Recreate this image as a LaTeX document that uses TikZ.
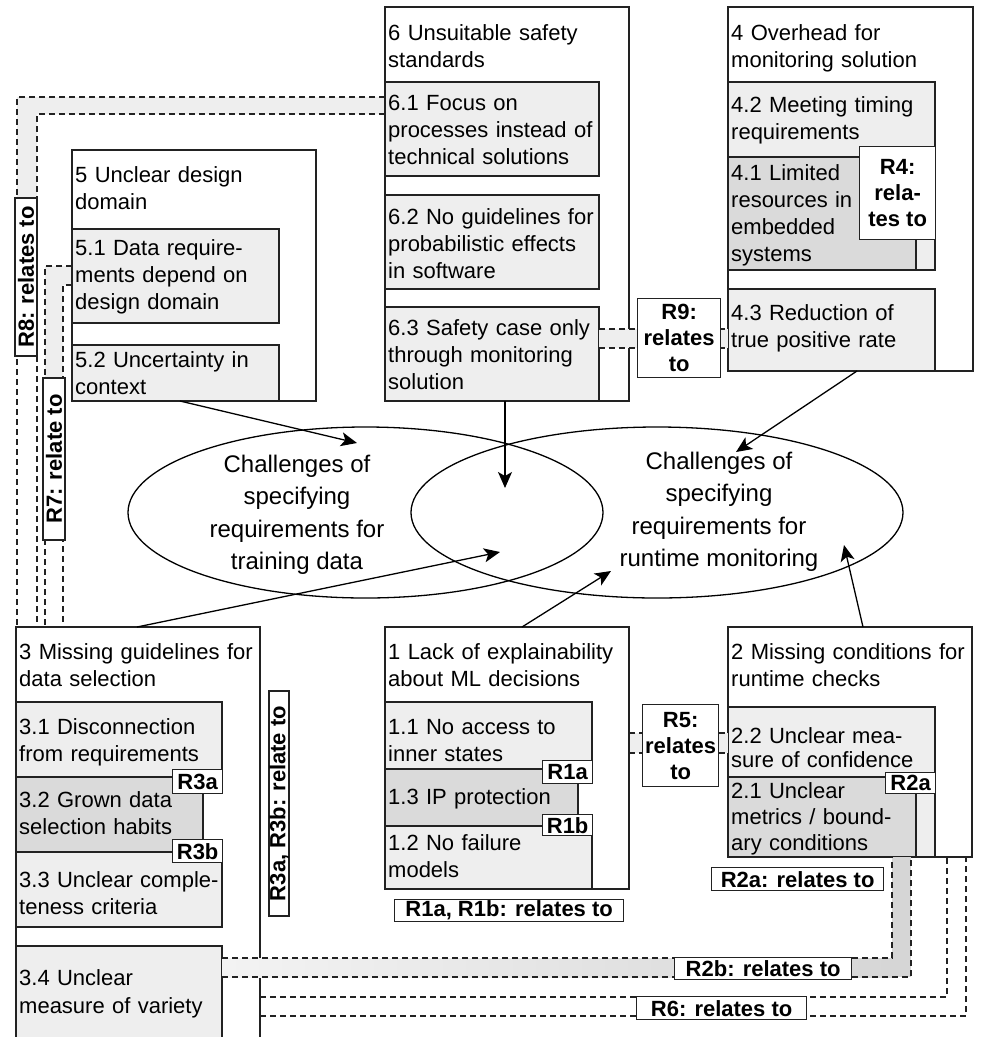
\documentclass[tikz,border=0pt]{standalone}
\usepackage{fontspec}
\setmainfont{Liberation Sans}
\usetikzlibrary{shapes.geometric,arrows.meta,calc}
\definecolor{lite}{HTML}{EEEEEE}
\definecolor{darkf}{HTML}{DADADA}
\definecolor{bord}{HTML}{222222}
\definecolor{bandd}{HTML}{D6D6D6}
\tikzset{
 outerbox/.style={draw=bord, line width=1.3pt, fill=white, anchor=north west, inner sep=0pt, outer sep=0pt},
 innerbox/.style={outerbox, fill=lite},
 darkbox/.style={outerbox, fill=darkf},
 lbl/.style={draw=bord, line width=1.3pt, fill=white, inner sep=0pt, font=\bfseries\fontsize{22}{26}\selectfont, align=center},
 dsh/.style={draw=bord, line width=1.2pt, dash pattern=on 6pt off 4pt},
 arr/.style={draw=black, line width=1.3pt, -{Stealth[length=16pt,width=14pt,inset=4pt]}},
 ell/.style={draw=black, line width=1.3pt, ellipse, inner sep=0pt},
 etext/.style={font=\fontsize{24}{32.5}\selectfont, align=center, inner sep=0pt},
}
\newcommand\rb[6]{\node[#2, minimum width={(#5)-(#3)}, minimum height={(#6)-(#4)}] (#1) at (#3,#4) {};}
\newcommand\tx[5]{\node[font=\fontsize{22}{#4}\selectfont, text width=320pt, align=left, inner sep=0pt, anchor=north west] (#1) at (#2+3, #3-0.7*#4) {\strut #5};}
\newcommand\lb[6]{\node[lbl, minimum width={(#4)-(#2)}, minimum height={(#5)-(#3)}, anchor=north west] (#1) at (#2,#3) {#6};}
\begin{document}
\begin{tikzpicture}[x=1pt,y=-1pt]
\path[use as bounding box, fill=white] (0,0) rectangle (981,1037);

% ---- R8 and R7 bands (behind boxes)
\fill[lite] (17,97) -- (385,97) -- (385,114) -- (37,114) -- (37,200) -- (17,200) -- cycle;
\fill[lite] (45,266) -- (72,266) -- (72,285) -- (63,285) -- (63,380) -- (45,380) -- cycle;
\coordinate (r8a) at (385,97); \coordinate (r8b) at (385,114);
\coordinate (r8c) at (17,627); \coordinate (r8d) at (37,627);
\draw[dsh] (r8a) -- (17,97) -- (r8c);
\draw[dsh] (r8b) -- (37,114) -- (r8d);
\coordinate (r7a) at (72,266); \coordinate (r7b) at (72,285);
\coordinate (r7c) at (45,627); \coordinate (r7d) at (63,627);
\draw[dsh] (r7a) -- (45,266) -- (r7c);
\draw[dsh] (r7b) -- (63,285) -- (r7d);

% ---- outer boxes
\rb{b6}{outerbox}{385}{7}{629}{401}
\rb{b5}{outerbox}{72}{150}{316}{401}
\rb{b4}{outerbox}{728}{7}{973}{371}
\rb{b3}{outerbox}{16}{627}{260}{1050}
\rb{b1}{outerbox}{385}{627}{629}{889}
\rb{b2}{outerbox}{728}{627}{972}{857}

% ---- inner boxes
\rb{b61}{innerbox}{385}{82}{599}{176}
\rb{b62}{innerbox}{385}{195}{599}{289}
\rb{b63}{innerbox}{385}{307}{599}{401}
\rb{b51}{innerbox}{72}{229}{279}{323}
\rb{b52}{innerbox}{72}{345}{279}{401}
\rb{b42}{innerbox}{728}{82}{935}{270}
\rb{b41}{darkbox}{728}{157}{916}{270}
\rb{b43}{innerbox}{728}{289}{935}{371}
\rb{b31}{innerbox}{16}{702}{222}{777}
\rb{b32}{darkbox}{16}{777}{203}{852}
\rb{b33}{innerbox}{16}{852}{222}{927}
\rb{b34}{innerbox}{16}{946}{222}{1050}
\rb{b11}{innerbox}{385}{702}{592}{769}
\rb{b13}{darkbox}{385}{769}{578}{826}
\rb{b12}{innerbox}{385}{826}{592}{889}
\rb{b22}{innerbox}{728}{707}{935}{857}
\rb{b21}{darkbox}{728}{777}{916}{857}

% ---- box texts
\tx{t6}{385}{40}{27}{6 Unsuitable safety\\standards}
\tx{t61}{385}{110}{27}{6.1 Focus on\\processes instead of\\technical solutions}
\tx{t62}{385}{224}{27}{6.2 No guidelines for\\probabilistic effects\\in software}
\tx{t63}{385}{335}{27}{6.3 Safety case only\\through monitoring\\solution}
\tx{t5}{72}{182}{27}{5 Unclear design\\domain}
\tx{t51}{72}{255}{27}{5.1 Data require-\\ments depend on\\design domain}
\tx{t52}{72}{367}{27}{5.2 Uncertainty in\\context}
\tx{t4}{728}{40}{27}{4 Overhead for\\monitoring solution}
\tx{t42}{728}{112}{27}{4.2 Meeting timing\\requirements}
\tx{t41}{728}{180}{27}{4.1 Limited\\resources in\\embedded\\systems}
\tx{t43}{728}{320}{27}{4.3 Reduction of\\true positive rate}
\tx{t3}{16}{659}{27}{3 Missing guidelines for\\data selection}
\tx{t31}{16}{734}{27}{3.1 Disconnection\\from requirements}
\tx{t32}{16}{807}{27}{3.2 Grown data\\selection habits}
\tx{t33}{16}{887}{27.5}{3.3 Unclear comple-\\teness criteria}
\tx{t34}{16}{985}{28}{3.4 Unclear\\measure of variety}
\tx{t1}{385}{659}{27}{1 Lack of explainability\\about ML decisions}
\tx{t11}{385}{734}{27}{1.1 No access to\\inner states}
\tx{t13}{385}{804}{27}{1.3 IP protection}
\tx{t12}{385}{850}{27}{1.2 No failure\\models}
\tx{t2}{728}{659}{27}{2 Missing conditions for\\runtime checks}
\tx{t22}{728}{743}{24}{2.2 Unclear mea-\\sure of confidence}
\tx{t21}{728}{798}{26}{2.1 Unclear\\metrics / bound-\\ary conditions}

% ---- R9 and R5 bands
\fill[lite] (599,329) rectangle (728,348);
\draw[dsh] (b63.east |- 0,329) -- (b43.west |- 0,329);
\draw[dsh] (b63.east |- 0,348) -- (b43.west |- 0,348);
\fill[lite] (629.7,733) rectangle (728,753);
\draw[dsh] (b1.east |- 0,733) -- (b22.west |- 0,733);
\draw[dsh] (b1.east |- 0,753) -- (b22.west |- 0,753);

% ---- R2b band
\shade[left color=lite!70!white, right color=bandd] (222,958) rectangle (892,977);
\fill[bandd] (892,857) rectangle (911,977);
\coordinate (r2a) at (222,958); \coordinate (r2b) at (222,977);
\coordinate (r2c) at (892,857); \coordinate (r2d) at (911,857);
\draw[dsh] (r2a) -- (892,958) -- (r2c);
\draw[dsh] (r2b) -- (911,977) -- (r2d);

% ---- R6 lines
\coordinate (r6a) at (260,997); \coordinate (r6b) at (260,1016);
\coordinate (r6c) at (947,857); \coordinate (r6d) at (966,857);
\draw[dsh] (r6a) -- (947,997) -- (r6c);
\draw[dsh] (r6b) -- (966,1016) -- (r6d);

% ---- labels
\lb{lr9}{637}{298}{720}{377}{R9:\\relates\\to}
\lb{lr4}{859}{146}{935}{239}{R4:\\rela-\\tes to}
\lb{lr5}{642}{704}{718}{786}{R5:\\relates\\to}
\lb{lr3a}{172}{769}{222}{793}{R3a}
\lb{lr3b}{172}{839}{222}{862}{R3b}
\lb{lr1a}{542}{760}{592}{783}{R1a}
\lb{lr1b}{542}{814}{592}{835}{R1b}
\lb{lr2a}{885}{772}{935}{793}{R2a}
\lb{lr2al}{711}{867}{883}{890}{R2a: relates to}
\lb{lr1l}{394}{899}{623}{921}{R1a, R1b: relates to}
\lb{lr2bl}{674}{957}{851}{979}{R2b: relates to}
\lb{lr6l}{636}{996}{806}{1019}{R6: relates to}
\node[lbl, rotate=90, minimum width=158, minimum height=22] (lr8) at (26,277) {R8: relates to};
\node[lbl, rotate=90, minimum width=162, minimum height=22] (lr7) at (54,459) {R7: relate to};
\node[lbl, rotate=90, minimum width=225, minimum height=20] (lr3) at (279,803.5) {R3a, R3b: relate to};

% ---- ellipses
\node[ell, minimum width=475, minimum height=171] (e1) at (365.5,512.5) {};
\node[ell, minimum width=492, minimum height=171] (e2) at (657,512.5) {};
\node[etext] (e1t) at (297,514.5) {\strut Challenges of\\specifying\\requirements for\\training data\strut};
\node[etext] (e2t) at (719,511.5) {\strut Challenges of\\specifying\\requirements for\\runtime monitoring\strut};

% ---- arrows
\coordinate (p1) at (357,443);
\coordinate (p2) at (505,488);
\coordinate (p3) at (736,452);
\coordinate (p4) at (500,552);
\coordinate (p5) at (611,571);
\coordinate (p6) at (844,545);
\draw[arr] (b52.south west |- b52.south) ++(108,0) -- (p1);
\draw[arr] (p2 |- b63.south) -- (p2);
\draw[arr] (b43.south west) ++(129,0) -- (p3);
\draw[arr] (b3.north west) ++(121,0) -- (p4);
\draw[arr] (b1.north west) ++(137,0) -- (p5);
\draw[arr] (b2.north west) ++(135,0) -- (p6);
\end{tikzpicture}
\end{document}
